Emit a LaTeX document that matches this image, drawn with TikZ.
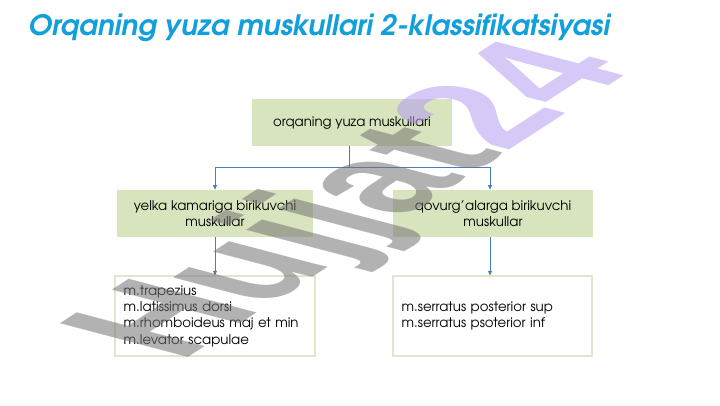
\documentclass[tikz,border=0pt]{standalone}
\usepackage{fontspec}
\setmainfont{texgyreadventor}[Extension=.otf, UprightFont=*-regular, BoldFont=*-bold, ItalicFont=*-italic, BoldItalicFont=*-bolditalic]
\newfontfamily\wmfont{Liberation Sans}
\usetikzlibrary{arrows.meta}
\definecolor{titleblue}{HTML}{12A0DC}
\definecolor{boxgreen}{HTML}{D7E4BD}
\definecolor{pale}{HTML}{E2E5CC}
\definecolor{linkblue}{HTML}{4A7EBB}
\definecolor{wmgray}{HTML}{737373}
\definecolor{wmlav}{HTML}{B69BF2}
\begin{document}
\begin{tikzpicture}[x=0.75pt,y=-0.75pt,
  greenbox/.style={fill=boxgreen, draw=none, align=center, font=\fontsize{10}{12.2}\selectfont, inner sep=0pt},
  listbox/.style={fill=white, draw=pale, line width=0.8pt, align=left, text width=137pt, inner xsep=6.5pt, inner ysep=0pt, minimum height=60pt, font=\fontsize{10}{12.2}\selectfont},
  link/.style={draw=linkblue, line width=0.6pt},
  tip/.style={-{Triangle[length=3.5pt,width=3pt]}}]
\fill[white] (0,0) rectangle (720,405);
\useasboundingbox (0,0) rectangle (720,405);
\node[anchor=base west, text=titleblue, font=\fontsize{21.1}{25}\selectfont\bfseries\itshape, inner sep=0pt] (title) at (28,35) {Orqaning yuza muskullari 2-klassifikatsiyasi};
\node[greenbox, minimum width=150pt, minimum height=35.25pt] (top) at (352,122.5) {orqaning yuza muskullari};
\node[greenbox, minimum width=147pt, minimum height=35.25pt] (ml) at (215,213.5) {yelka kamariga birikuvchi\\muskullar};
\node[greenbox, minimum width=150pt, minimum height=35.25pt] (mr) at (493,213.5) {qovurg’alarga birikuvchi\\muskullar};
\node[listbox] (bl) at (215,316) {m.trapezius\\m.latissimus dorsi\\m.rhomboideus maj et min\\m.levator scapulae};
\node[listbox, text width=136.25pt] (br) at (492.5,316) {m.serratus posterior sup\\m.serratus psoterior inf};
\coordinate (split) at ([xshift=-2.25pt]top.south);
\draw[link,tip] (split) -- ++(0,21) -| (ml.north);
\draw[link,tip] (split) -- ++(0,21) -| ([xshift=-2.25pt]mr.north);
\draw[link,tip] (ml.south) -- (bl.north);
\draw[link,tip] ([xshift=-2.25pt]mr.south) -- ([xshift=-2.25pt]mr.south |- br.north);
\node[cm={1.02,0.66,-1.622,0.4275,(180,363)}, transform shape, anchor=base west, inner sep=0pt, font=\wmfont\bfseries\fontsize{86}{86}\selectfont, text opacity=0.55] (wm) at (0,0) {\textcolor{wmgray}{Hujjat}\textcolor{wmlav}{24}};
\end{tikzpicture}
\end{document}
